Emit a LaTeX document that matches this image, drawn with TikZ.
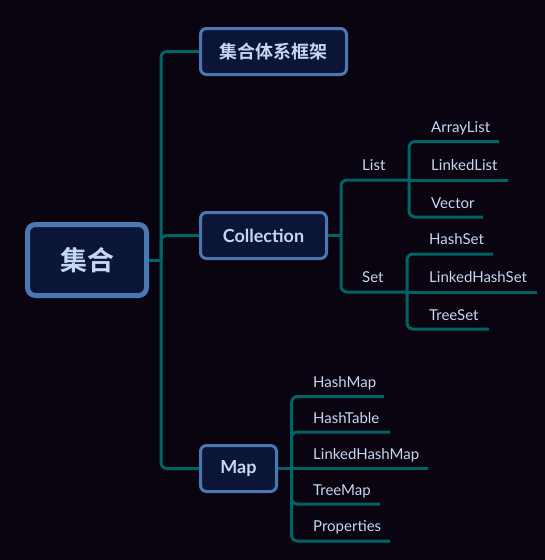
\documentclass[tikz,border=0pt]{standalone}
\usepackage{fontspec}
\setmainfont{Lato}
\newfontfamily\cjkbold{Noto Sans CJK SC Bold}
\definecolor{bgc}{HTML}{0A0410}
\definecolor{boxfill}{HTML}{0B1538}
\definecolor{boxline}{HTML}{4A78B0}
\definecolor{linec}{HTML}{006366}
\definecolor{txtc}{HTML}{C5D8F2}
\begin{document}
\begin{tikzpicture}[x=1pt,y=-1pt,
  topicbox/.style={draw=boxline,fill=boxfill,line width=3pt,rounded corners=6pt,text=txtc,inner sep=0pt,minimum height=46pt},
  conn/.style={draw=linec,line width=3pt,rounded corners=6pt},
  leaf/.style={anchor=base west,text=txtc,inner sep=0pt,font=\fontsize{15}{17}\selectfont}]
\fill[bgc] (0,0) rectangle (545,560);
\useasboundingbox (0,0) rectangle (545,560);
% main boxes
\node[topicbox,line width=5pt,rounded corners=8pt,minimum width=119pt,minimum height=71pt,font=\cjkbold\fontsize{27}{30}\selectfont] (root) at (87,260) {集合};
\node[topicbox,minimum width=146pt,font=\cjkbold\fontsize{18}{20}\selectfont] (frame) at (273.5,51.5) {集合体系框架};
\node[topicbox,minimum width=126pt,font=\bfseries\fontsize{18}{20}\selectfont] (coll) at (263.5,235.5) {Collection};
\node[topicbox,minimum width=76pt,font=\bfseries\fontsize{18}{20}\selectfont] (map) at (238.5,468.5) {Map};
% trunk
\coordinate (j0) at (161,260);
\draw[conn] (root.east) -- (j0);
\draw[conn] (j0) |- (frame.west);
\draw[conn] (j0) |- (coll.west);
\draw[conn] (j0) |- (map.west);
% Collection branch
\coordinate (cj) at (341,235.5);
\draw[conn] (coll.east) -- (cj);
\node[leaf] (list) at (362,170) {List};
\node[leaf] (set) at (362,282) {Set};
\coordinate (listU) at (409,180);
\coordinate (setU) at (407,292);
\draw[conn] (cj) |- (listU);
\draw[conn] (cj) |- (setU);
% List children
\node[leaf] (arraylist) at (431,132) {ArrayList};
\node[leaf] (linkedlist) at (431,170) {LinkedList};
\node[leaf] (vector) at (431,208) {Vector};
\coordinate (arrayU) at (499,141.5);
\coordinate (linkedU) at (508,180);
\coordinate (vectorU) at (483,217);
\draw[conn] (listU) |- (arrayU);
\draw[conn] (listU) -- (linkedU);
\draw[conn] (listU) |- (vectorU);
% Set children
\node[leaf] (hashset) at (429,244) {HashSet};
\node[leaf] (lhs) at (429,282) {LinkedHashSet};
\node[leaf] (treeset) at (429,320) {TreeSet};
\coordinate (hashsetU) at (493,254);
\coordinate (lhsU) at (537,292);
\coordinate (treesetU) at (489,329);
\draw[conn] (setU) |- (hashsetU);
\draw[conn] (setU) -- (lhsU);
\draw[conn] (setU) |- (treesetU);
% Map children
\coordinate (mj) at (291.5,468.5);
\draw[conn] (map.east) -- (mj);
\node[leaf] (hashmap) at (313,387) {HashMap};
\node[leaf] (hashtable) at (313,423) {HashTable};
\node[leaf] (lhm) at (313,459) {LinkedHashMap};
\node[leaf] (treemap) at (313,495) {TreeMap};
\node[leaf] (props) at (313,531) {Properties};
\coordinate (hashmapU) at (384,396.5);
\coordinate (hashtableU) at (390,432);
\coordinate (lhmU) at (428,468.5);
\coordinate (treemapU) at (380,504);
\coordinate (propsU) at (390,541);
\draw[conn] (mj) |- (hashmapU);
\draw[conn] (mj) |- (hashtableU);
\draw[conn] (mj) -- (lhmU);
\draw[conn] (mj) |- (treemapU);
\draw[conn] (mj) |- (propsU);
\end{tikzpicture}
\end{document}
